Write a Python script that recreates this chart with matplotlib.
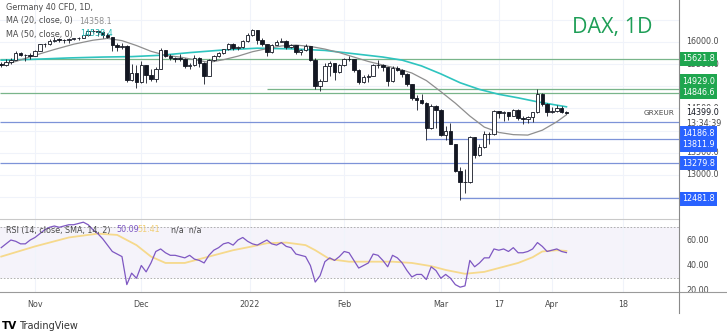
import matplotlib
matplotlib.use('Agg')
import matplotlib.pyplot as plt
import matplotlib.transforms as mtransforms
from matplotlib.lines import Line2D
import numpy as np
import pandas as pd

plt.rcParams['font.family'] = ['DejaVu Sans']

# ---------------------------------------------------------------
# data (Germany 40 CFD, daily)
# ---------------------------------------------------------------
dates = pd.bdate_range('2021-10-21', '2022-04-06', freq='C',
                       holidays=['2021-12-24', '2021-12-31'])

opens = [15510, 15472, 15543, 15600, 15757, 15705, 15696,
         15689, 15806, 15954, 15959, 16029, 16054, 16047, 16040, 16067, 16083,
         16094, 16148, 16247, 16251, 16221, 16160, 16115, 15937, 15878, 15917,
         15150, 15300,
         15100, 15473, 15263, 15170, 15387, 15813, 15687, 15639, 15623, 15621,
         15453, 15476, 15637, 15532, 15240, 15594, 15676, 15756, 15835, 15964, 15853,
         15885, 16021, 16152, 16271, 16052, 15948, 15768, 15942, 16010, 16031,
         15883, 15933, 15772, 15810, 15912, 15603, 15011, 15123, 15459, 15524, 15318,
         15471, 15619, 15613, 15368, 15100, 15207, 15242, 15482, 15490, 15425,
         15113, 15412, 15370, 15267, 15042, 14731, 14693, 14631, 14052, 14567,
         14461, 13905, 14000, 13698, 13094, 12835, 12832, 13848, 13443, 13628,
         13929, 13918, 14441, 14388, 14413, 14326, 14473, 14283, 14273, 14306,
         14418, 14820, 14606, 14415, 14446, 14519, 14424]
highs = [15540, 15610, 15630, 15790, 15780, 15730, 15750,
         15830, 15960, 15985, 16060, 16110, 16080, 16070, 16090, 16100, 16120,
         16160, 16250, 16290, 16270, 16250, 16200, 16120, 15980, 15970, 15930,
         15500, 15480,
         15560, 15480, 15400, 15440, 15860, 15830, 15740, 15670, 15720, 15640,
         15520, 15700, 15650, 15540, 15620, 15700, 15780, 15840, 15980, 15980, 15900,
         16040, 16200, 16290, 16280, 16100, 15960, 15960, 16050, 16090, 16040,
         15960, 15940, 15840, 15960, 15920, 15640, 15160, 15520, 15560, 15530,
         15500, 15640, 15680, 15620, 15380, 15250, 15280, 15500, 15590, 15500,
         15430, 15460, 15460, 15380, 15310, 15060, 14800, 14820, 14640, 14600,
         14580, 14480, 14100, 14180, 13710, 13180, 13140, 13880, 13850, 13700,
         14000, 13960, 14460, 14450, 14440, 14420, 14490, 14480, 14330, 14340,
         14430, 14929, 14860, 14620, 14540, 14570, 14550, 14440]
lows = [15430, 15460, 15510, 15590, 15680, 15580, 15610,
        15680, 15790, 15880, 15940, 16010, 16000, 15980, 15970, 16040, 16050,
        16080, 16130, 16200, 16140, 16080, 16080, 15800, 15790, 15850, 15100,
        15120, 14960,
        15080, 15080, 15120, 15090, 15380, 15650, 15600, 15550, 15580, 15410,
        15380, 15460, 15430, 15060, 15230, 15560, 15660, 15730, 15820, 15830, 15820,
        15870, 16010, 16140, 15950, 15900, 15690, 15750, 15930, 15990, 15850,
        15870, 15740, 15710, 15790, 15560, 14950, 14900, 15110, 15230, 15140,
        15300, 15460, 15560, 15330, 15060, 15080, 15100, 15230, 15410, 15340,
        15010, 15100, 15340, 15200, 15010, 14690, 14470, 14610, 13800, 14040,
        14060, 13880, 13790, 13690, 13060, 12440, 12600, 12820, 13380, 13420,
        13600, 13700, 13900, 14290, 14220, 14230, 14320, 14250, 14160, 14180,
        14200, 14400, 14560, 14330, 14390, 14430, 14400, 14370]
closes = [15472, 15543, 15600, 15757, 15705, 15696, 15689,
          15806, 15954, 15959, 16029, 16054, 16047, 16040, 16067, 16083, 16094,
          16148, 16247, 16251, 16221, 16160, 16115, 15937, 15878, 15917, 15150,
          15300, 15100,
          15473, 15263, 15170, 15387, 15813, 15687, 15639, 15623, 15621, 15453,
          15476, 15637, 15532, 15240, 15594, 15676, 15756, 15835, 15964, 15853, 15885,
          16021, 16152, 16271, 16052, 15948, 15768, 15942, 16010, 16031, 15883,
          15933, 15772, 15810, 15912, 15603, 15011, 15123, 15459, 15524, 15318,
          15471, 15619, 15613, 15368, 15100, 15207, 15242, 15482, 15490, 15425,
          15113, 15412, 15370, 15267, 15042, 14731, 14693, 14631, 14052, 14567,
          14461, 13905, 14000, 13698, 13094, 12835, 12832, 13848, 13443, 13628,
          13929, 13918, 14441, 14388, 14413, 14326, 14473, 14283, 14273, 14306,
          14418, 14820, 14606, 14415, 14446, 14519, 14424, 14399]

# moving averages (sampled along the curves, bar index 0 = 1 Nov)
ma20_idx = [-7, -4, 0, 4, 8, 12, 15, 18, 21, 24, 27, 30, 33, 36, 39, 42, 45, 48,
            51, 54, 57, 60, 63, 66, 69, 72, 75, 78, 81, 84, 87, 90, 93, 96, 99,
            102, 105, 108, 110]
ma20_val = [15480, 15560, 15700, 15830, 15950, 16040, 16080, 16030, 15920, 15790,
            15700, 15660, 15600, 15540, 15600, 15680, 15780, 15850, 15910, 15930,
            15900, 15840, 15760, 15660, 15560, 15480, 15400, 15300, 15130, 14880,
            14620, 14330, 14080, 13960, 13910, 13900, 14010, 14200, 14358]
ma50_idx = [-7, 0, 7, 14, 20, 26, 32, 39, 46, 53, 60, 64, 68, 72, 76, 80, 84, 88,
            92, 96, 100, 104, 108, 110]
ma50_val = [15590, 15610, 15640, 15660, 15670, 15700, 15760, 15820, 15860, 15845,
            15810, 15760, 15710, 15660, 15590, 15460, 15280, 15080, 14930, 14820,
            14740, 14650, 14575, 14538]

rsi = [54, 57, 60, 59, 57, 57, 60,
       62, 65, 68, 70, 71, 70, 71, 72, 72, 73, 74, 72, 68, 65, 61, 56, 51, 49,
       47, 25, 34, 30,
       40, 35, 42, 51, 53, 50, 48, 48, 47, 46, 48, 45, 44, 42, 48, 52, 54, 57,
       58, 56, 60,
       62, 59, 57, 56, 58, 60, 57, 56, 58, 55, 54, 49, 48, 47, 40, 27, 32, 43,
       46, 44, 47,
       51, 50, 44, 38, 40, 42, 49, 48, 44, 39, 48, 46, 42, 36, 31, 33, 33, 29,
       39, 36,
       30, 33, 30, 25, 23, 24, 44, 39, 42, 46, 46, 53, 52, 53, 51, 54, 50, 50,
       51, 53, 58, 55, 51,
       52, 53, 51, 50.09]
rsi_sma_idx = [-7, 0, 7, 13, 17, 21, 24, 27, 31, 34, 38, 41, 45, 48, 52, 56, 58,
               61, 65, 70, 74, 78, 82, 85, 89, 93, 96, 100, 103, 105, 108, 110]
rsi_sma_val = [47, 55, 62, 65, 64, 56, 47, 42, 42, 45, 49, 52, 55, 57.5, 58, 56,
               52, 45, 43, 43, 43, 42, 39.5, 36.5, 33.5, 35, 38, 42, 46.5, 51, 52,
               51.4]

# drawn levels
level_vals = [15621.8, 14929.0, 14846.6, 14186.8, 13811.9, 13279.8, 12481.8]
level_from = ['2021-10-21', '2022-01-10', '2021-10-21', '2021-10-21',
              '2022-02-24', '2021-10-21', '2022-03-07']
level_kind = ['g', 'g', 'g', 'b', 'b', 'b', 'b']

# scale labels that are not covered by a level box
price_ticks = [16000, 15500, 14500, 13500, 13000]
grid_ticks = [16500, 16000, 15500, 15000, 14500, 14000, 13500, 13000, 12500]
rsi_ticks = [60, 40, 20]
time_labels = ['Nov', 'Dec', '2022', 'Feb', 'Mar', '17', 'Apr', '18']
time_pos = [0, 22, 44.5, 64, 84, 96, 107, 121.7]

# ---------------------------------------------------------------
W, H = 727, 335
fig = plt.figure(figsize=(W / 100, H / 100), dpi=100)
fig.patch.set_facecolor('white')

def fbox(x0, y0, x1, y1):
    return [x0 / W, 1 - y1 / H, (x1 - x0) / W, (y1 - y0) / H]

def ftext(px, py, s, **kw):
    return fig.text(px / W, 1 - py / H, s, **kw)

ax = fig.add_axes(fbox(0, 0, 679, 219))
ax2 = fig.add_axes(fbox(0, 219, 679, 292))

off = dates.get_loc(pd.Timestamp('2021-11-01'))
x = np.arange(len(closes)) - off
o = np.array(opens, float)
h = np.array(highs, float)
l = np.array(lows, float)
c = np.array(closes, float)

XMIN, XMAX = -7.25, 133.3
GRID = '#f0f3fa'
INK = '#131722'
TXT = '#4a4a4a'

# ---- price panel
ax.set_xlim(XMIN, XMAX)
ax.set_ylim(12007, 16947)
for p in grid_ticks:
    ax.axhline(p, color=GRID, lw=0.8, zorder=0)
for t in time_pos:
    ax.axvline(t, color=GRID, lw=0.8, zorder=0)

for val, start, kind in zip(level_vals, level_from, level_kind):
    xs = dates.get_loc(pd.Timestamp(start)) - off
    if xs <= -7:
        xs = XMIN
    col = '#79b58a' if kind == 'g' else '#7d93d8'
    ax.hlines(val, xs, XMAX, color=col, lw=0.9, zorder=1)

ax.plot(ma50_idx, ma50_val, color='#2ec4bf', lw=1.2, zorder=2)
ax.plot(ma20_idx, ma20_val, color='#8e8e8e', lw=0.9, zorder=2)

up = c >= o
ax.vlines(x, l, h, color=INK, lw=0.6, zorder=3)
body_lo = np.minimum(o, c)
body_h = np.maximum(np.abs(c - o), 10)
ax.bar(x, body_h, bottom=body_lo, width=0.72,
       color=np.where(up, 'white', INK), edgecolor=INK, linewidth=0.6, zorder=4)

ax.set_xticks([])
ax.set_yticks([])
for s in ax.spines.values():
    s.set_visible(False)

# right price scale
trans = mtransforms.blended_transform_factory(ax.transAxes, ax.transData)
for p in price_ticks:
    ax.text(1.0105, p, f'{p:.1f}', transform=trans, fontsize=5.8, color=TXT,
            va='center', ha='left', zorder=1, clip_on=False)

shift_px = [0, -8.4, -1, 10.7, 6, 0.5, 1]
for val, kind, dy in zip(level_vals, level_kind, shift_px):
    tr = mtransforms.offset_copy(trans, fig=fig, y=-dy * 0.72, units='points')
    ax.text(1.0045, val, f'{val:.1f}', transform=tr, fontsize=5.8,
            color='white', va='center', ha='left', zorder=10, clip_on=False,
            bbox=dict(boxstyle='square,pad=0.28',
                      fc='#1fa64f' if kind == 'g' else '#2962ff', ec='none'))

last = closes[-1]
ax.text(1.0105, last, f'{last:.1f}', transform=trans, fontsize=5.8, color=INK,
        va='center', ha='left', zorder=9, clip_on=False,
        bbox=dict(boxstyle='square,pad=0.25', fc='white', ec='none'))
tr = mtransforms.offset_copy(trans, fig=fig, y=-10.5 * 0.72, units='points')
ax.text(1.0105, last, '13:34:39', transform=tr, fontsize=5.8, color=TXT,
        va='center', ha='left', zorder=9, clip_on=False)
ax.text(0.994, last, 'GRXEUR', transform=trans, fontsize=5.3, color=TXT,
        va='center', ha='right', zorder=9)

# ---- RSI panel
ax2.set_xlim(XMIN, XMAX)
ax2.set_ylim(19.2, 76.5)
ax2.axhspan(30, 70, color='#7e57c2', alpha=0.07, lw=0, zorder=0)
for t in time_pos:
    ax2.axvline(t, color=GRID, lw=0.8, zorder=0)
for lvl in (70, 30):
    ax2.axhline(lvl, color='#a3a3a3', lw=0.6, ls=(0, (2, 2)), zorder=1)
ax2.plot(rsi_sma_idx, rsi_sma_val, color='#f6d98c', lw=1.3, zorder=2)
ax2.plot(x, rsi, color='#7e57c2', lw=0.9, zorder=3)
ax2.set_yticks([])
ax2.set_xticks(time_pos)
ax2.set_xticklabels(time_labels)
ax2.tick_params(axis='x', length=0, pad=6, labelsize=5.8, labelcolor=TXT)
for s in ax2.spines.values():
    s.set_visible(False)
trans2 = mtransforms.blended_transform_factory(ax2.transAxes, ax2.transData)
for r in rsi_ticks:
    ax2.text(1.0105, r, f'{r:.2f}', transform=trans2, fontsize=5.8, color=TXT,
             va='center', ha='left', clip_on=False)

# ---- frame lines
fig.add_artist(Line2D([0, 679 / W], [1 - 219 / H] * 2, color='#c9c9c9', lw=0.8))
fig.add_artist(Line2D([0, 1], [1 - 292 / H] * 2, color='#9a9a9a', lw=0.8))
fig.add_artist(Line2D([679 / W] * 2, [1, 1 - 313 / H], color='#8a8a8a', lw=0.8))

# ---- legends and titles
ftext(612, 27, 'DAX, 1D', ha='center', va='center', fontsize=15.5,
      color='#1e9e57', family='Open Sans')
ftext(6, 8, 'Germany 40 CFD, 1D,', fontsize=5.8, color=TXT, va='center')
ftext(6, 21, 'MA (20, close, 0)', fontsize=5.8, color=TXT, va='center')
ftext(79, 21, '14358.1', fontsize=5.8, color='#8e8e8e', va='center')
ftext(6, 34, 'MA (50, close, 0)', fontsize=5.8, color=TXT, va='center')
ftext(80, 34, '14538.4', fontsize=5.8, color='#22b5b0', va='center')
ftext(6, 230, 'RSI (14, close, SMA, 14, 2)', fontsize=5.8, color=TXT, va='center')
ftext(116, 230, '50.09', fontsize=5.8, color='#7e57c2', va='center')
ftext(137, 230, '51.41', fontsize=5.8, color='#f1cf78', va='center')
ftext(171, 230, 'n/a  n/a', fontsize=5.8, color=TXT, va='center')

ftext(2, 326, 'TV', fontsize=7.5, color='black', weight='bold', va='center')
ftext(19, 326, 'TradingView', fontsize=7, color='#333333', va='center')

fig.savefig('out.png', dpi=100)
